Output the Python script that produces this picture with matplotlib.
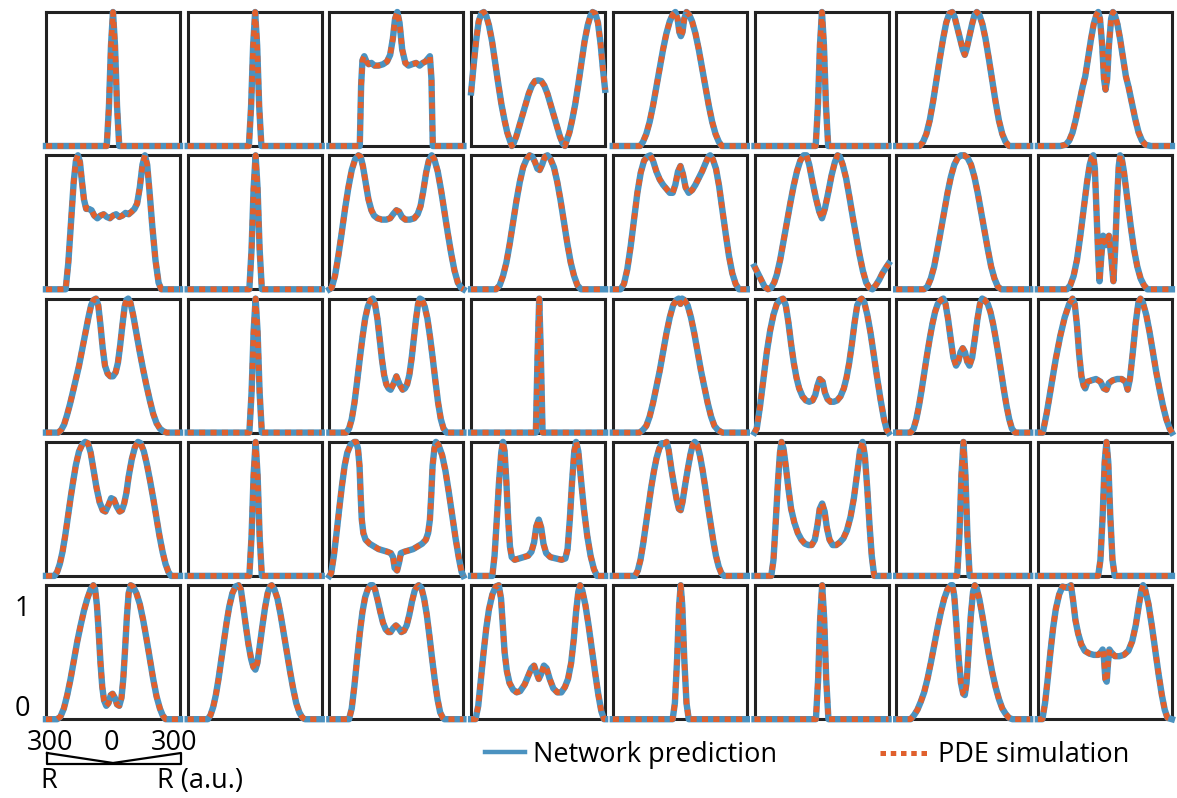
import matplotlib
matplotlib.use('Agg')
import matplotlib.pyplot as plt
from matplotlib.lines import Line2D

plt.rcParams['font.family'] = ['Open Sans', 'DejaVu Sans']

W, H = 1177, 798
blue = '#4b92c0'
orange = '#e0602d'
frame = '#222222'

# radial profiles, r in a.u. (-300..300), u normalised to 1
row1_r = [
    [-300, -28, -18, -9, 0, 9, 18, 28, 300],
    [-300, -26, -16, -7, 2, 11, 20, 30, 300],
    [-300, -164, -158, -152, -144, -134, -124, -112, -98, -80, -60, -42, -28, -16, -6, 4, 14, 26, 40, 54,
     70, 88, 104, 118, 130, 140, 150, 157, 163, 300],
    [-300, -290, -278, -266, -254, -243, -232, -220, -206, -192, -178, -164, -150, -138, -126, -118, -110,
     -98, -84, -70, -56, -42, -28, -14, 0, 14, 28, 42, 56, 70, 84, 98, 110, 120, 128, 140, 152, 166, 180,
     194, 208, 222, 234, 244, 256, 268, 280, 290, 300],
    [-300, -178, -165, -150, -135, -120, -105, -90, -75, -60, -45, -32, -20, -10, -2, 5, 12, 20, 30, 42,
     55, 70, 85, 100, 115, 130, 145, 160, 175, 188, 300],
    [-300, -26, -16, -7, 2, 11, 20, 30, 300],
    [-300, -195, -180, -165, -150, -135, -120, -105, -90, -76, -62, -49, -38, -26, -14, -2, 7, 16, 28, 40,
     51, 61, 72, 86, 100, 115, 130, 145, 160, 175, 190, 205, 300],
    [-300, -200, -175, -160, -145, -130, -115, -100, -88, -75, -62, -50, -38, -30, -22, -12, -4, 3, 10, 18,
     28, 36, 44, 56, 68, 81, 94, 106, 121, 136, 151, 166, 181, 206, 300],
]
row1_u = [
    [0, 0, 0.3, 0.75, 1.0, 0.75, 0.3, 0, 0],
    [0, 0, 0.3, 0.75, 1.0, 0.75, 0.3, 0, 0],
    [0, 0, 0.45, 0.64, 0.67, 0.63, 0.61, 0.62, 0.6, 0.6, 0.61, 0.63, 0.68, 0.8, 0.95, 1.0, 0.92, 0.72, 0.62,
     0.6, 0.61, 0.62, 0.6, 0.62, 0.63, 0.65, 0.67, 0.5, 0, 0],
    [0.4, 0.58, 0.78, 0.93, 0.99, 1.0, 0.97, 0.9, 0.78, 0.62, 0.46, 0.31, 0.19, 0.1, 0.04, 0.0, 0.02, 0.07,
     0.15, 0.23, 0.31, 0.39, 0.45, 0.485, 0.49, 0.485, 0.45, 0.39, 0.31, 0.23, 0.15, 0.07, 0.02, 0.0, 0.04,
     0.1, 0.19, 0.31, 0.46, 0.62, 0.78, 0.9, 0.97, 1.0, 0.99, 0.92, 0.76, 0.58, 0.42],
    [0, 0, 0.03, 0.09, 0.18, 0.3, 0.44, 0.58, 0.72, 0.84, 0.93, 0.98, 1.0, 0.95, 0.85, 0.82, 0.85, 0.95,
     1.0, 0.98, 0.93, 0.84, 0.72, 0.58, 0.44, 0.3, 0.18, 0.09, 0.03, 0, 0],
    [0, 0, 0.3, 0.75, 1.0, 0.75, 0.3, 0, 0],
    [0, 0, 0.03, 0.09, 0.19, 0.33, 0.49, 0.65, 0.8, 0.92, 0.99, 1.0, 0.96, 0.88, 0.8, 0.72, 0.68, 0.73,
     0.82, 0.91, 0.98, 1.0, 0.98, 0.91, 0.8, 0.65, 0.49, 0.33, 0.19, 0.09, 0.03, 0, 0],
    [0, 0, 0.01, 0.04, 0.1, 0.2, 0.32, 0.44, 0.52, 0.66, 0.8, 0.91, 0.98, 1.0, 0.95, 0.75, 0.5, 0.42, 0.5,
     0.75, 0.95, 1.0, 0.98, 0.91, 0.8, 0.66, 0.52, 0.44, 0.32, 0.2, 0.1, 0.04, 0.01, 0, 0],
]

row2_r = [
    [-300, -212, -200, -188, -176, -166, -157, -148, -140, -130, -120, -108, -96, -84, -70, -56, -42, -28,
     -14, 0, 14, 28, 42, 56, 70, 84, 96, 108, 120, 132, 143, 153, 164, 176, 190, 204, 216, 300],
    [-300, -24, -14, -5, 4, 13, 22, 32, 300],
    [-300, -290, -275, -260, -245, -230, -215, -200, -185, -170, -160, -150, -138, -125, -112, -100, -85,
     -65, -45, -28, -15, 0, 12, 25, 40, 60, 80, 95, 108, 120, 133, 145, 158, 170, 185, 200, 215, 230, 245,
     260, 275, 290, 300],
    [-300, -188, -172, -157, -142, -127, -112, -97, -82, -67, -52, -38, -26, -14, -3, 7, 18, 30, 42, 56,
     71, 86, 101, 116, 131, 146, 161, 176, 192, 300],
    [-300, -265, -250, -235, -220, -205, -190, -175, -160, -145, -132, -120, -105, -90, -75, -60, -45, -32,
     -20, -8, 3, 14, 26, 40, 55, 70, 85, 100, 115, 128, 136, 148, 162, 176, 190, 205, 220, 235, 250, 265,
     300],
    [-300, -285, -270, -255, -240, -226, -212, -200, -185, -170, -155, -140, -125, -110, -95, -80, -67, -55,
     -40, -25, -10, 2, 15, 30, 45, 60, 72, 82, 95, 110, 125, 140, 155, 170, 185, 200, 215, 228, 243, 258,
     273, 288, 300],
    [-300, -175, -160, -145, -130, -115, -100, -85, -70, -55, -40, -25, -10, 5, 20, 35, 50, 65, 80, 95,
     110, 125, 140, 155, 170, 300],
    [-300, -170, -155, -140, -125, -110, -95, -80, -68, -58, -52, -45, -38, -30, -24, -16, -8, 5, 18, 28,
     38, 46, 54, 62, 68, 75, 85, 100, 115, 130, 145, 160, 175, 190, 300],
]
row2_u = [
    [0, 0, 0.2, 0.5, 0.8, 0.96, 1.0, 0.95, 0.82, 0.67, 0.6, 0.6, 0.59, 0.55, 0.53, 0.55, 0.56, 0.54, 0.53,
     0.55, 0.56, 0.54, 0.55, 0.57, 0.56, 0.58, 0.6, 0.64, 0.76, 0.93, 1.0, 0.93, 0.72, 0.47, 0.22, 0.05, 0, 0],
    [0, 0, 0.3, 0.75, 1.0, 0.75, 0.3, 0, 0],
    [0, 0.01, 0.1, 0.25, 0.42, 0.6, 0.76, 0.89, 0.97, 1.0, 0.99, 0.92, 0.8, 0.67, 0.59, 0.55, 0.53, 0.52,
     0.52, 0.53, 0.56, 0.59, 0.58, 0.54, 0.52, 0.52, 0.53, 0.56, 0.62, 0.73, 0.87, 0.96, 1.0, 0.97, 0.88,
     0.74, 0.58, 0.42, 0.27, 0.14, 0.05, 0.01, 0],
    [0, 0, 0.03, 0.1, 0.2, 0.34, 0.5, 0.66, 0.8, 0.91, 0.97, 1.0, 0.99, 0.95, 0.9, 0.89, 0.93, 0.99, 1.0,
     0.97, 0.91, 0.8, 0.66, 0.5, 0.34, 0.2, 0.1, 0.03, 0, 0],
    [0, 0, 0.04, 0.15, 0.32, 0.52, 0.72, 0.87, 0.96, 0.99, 1.0, 0.96, 0.88, 0.82, 0.78, 0.75, 0.72, 0.72,
     0.78, 0.88, 0.92, 0.86, 0.76, 0.72, 0.74, 0.78, 0.83, 0.88, 0.94, 0.99, 1.0, 0.97, 0.9, 0.77, 0.6,
     0.42, 0.25, 0.12, 0.04, 0, 0],
    [0.17, 0.12, 0.07, 0.02, 0.0, 0.01, 0.05, 0.11, 0.22, 0.36, 0.5, 0.64, 0.77, 0.88, 0.96, 1.0, 1.0,
     0.93, 0.8, 0.68, 0.58, 0.53, 0.6, 0.72, 0.85, 0.95, 1.0, 0.99, 0.93, 0.83, 0.69, 0.54, 0.4, 0.26,
     0.14, 0.05, 0.01, 0.0, 0.03, 0.07, 0.12, 0.16, 0.19],
    [0, 0, 0.02, 0.08, 0.17, 0.3, 0.44, 0.58, 0.72, 0.84, 0.93, 0.98, 1.0, 1.0, 0.98, 0.93, 0.84, 0.72,
     0.58, 0.44, 0.3, 0.17, 0.08, 0.02, 0, 0],
    [0, 0, 0.03, 0.1, 0.22, 0.4, 0.6, 0.8, 0.93, 0.99, 1.0, 0.9, 0.6, 0.25, 0.06, 0.25, 0.4, 0.33, 0.4,
     0.25, 0.06, 0.3, 0.65, 0.92, 1.0, 0.98, 0.88, 0.68, 0.48, 0.3, 0.17, 0.08, 0.03, 0, 0],
]

row3_r = [
    [-300, -245, -232, -219, -206, -193, -180, -166, -152, -138, -124, -110, -98, -87, -76, -66, -56, -46,
     -36, -24, -12, 0, 12, 22, 32, 42, 52, 60, 68, 78, 90, 105, 120, 135, 150, 165, 180, 195, 210, 225,
     240, 300],
    [-300, -24, -14, -5, 4, 13, 22, 32, 300],
    [-300, -225, -212, -200, -188, -176, -164, -152, -140, -128, -116, -106, -96, -85, -75, -65, -55, -45,
     -35, -26, -14, 0, 14, 28, 38, 48, 58, 68, 78, 88, 97, 105, 115, 127, 139, 151, 163, 175, 187, 199,
     211, 225, 300],
    [-300, -10, -2, 5, 12, 20, 300],
    [-300, -180, -165, -150, -135, -120, -105, -90, -75, -60, -45, -30, -15, -5, 3, 10, 20, 35, 50, 65,
     80, 95, 110, 125, 140, 155, 170, 190, 300],
    [-300, -290, -275, -260, -245, -230, -215, -200, -185, -172, -160, -148, -136, -124, -112, -100, -85,
     -70, -55, -40, -28, -18, -8, 5, 15, 27, 40, 55, 70, 85, 100, 112, 124, 136, 148, 160, 172, 180, 192,
     205, 220, 235, 250, 265, 280, 292, 300],
    [-300, -235, -222, -210, -198, -186, -174, -162, -150, -138, -126, -114, -100, -89, -79, -68, -56, -44,
     -32, -22, -12, -2, 8, 18, 28, 40, 52, 64, 75, 85, 96, 110, 122, 134, 146, 158, 170, 182, 194, 206,
     218, 232, 300],
    [-300, -278, -260, -240, -220, -200, -180, -160, -145, -135, -125, -115, -105, -95, -88, -78, -60, -40,
     -20, -5, 7, 18, 35, 55, 75, 92, 102, 112, 125, 138, 150, 159, 170, 185, 200, 215, 230, 245, 260,
     275, 290, 300],
]
row3_u = [
    [0, 0, 0.02, 0.06, 0.13, 0.21, 0.3, 0.4, 0.5, 0.62, 0.74, 0.86, 0.95, 0.99, 1.0, 0.95, 0.8, 0.63, 0.5,
     0.44, 0.42, 0.42, 0.45, 0.52, 0.65, 0.8, 0.94, 0.99, 1.0, 0.97, 0.88, 0.74, 0.6, 0.47, 0.35, 0.24,
     0.14, 0.07, 0.03, 0.01, 0, 0],
    [0, 0, 0.3, 0.75, 1.0, 0.75, 0.3, 0, 0],
    [0, 0, 0.03, 0.1, 0.22, 0.38, 0.55, 0.71, 0.85, 0.94, 0.99, 1.0, 0.96, 0.85, 0.7, 0.55, 0.43, 0.36,
     0.33, 0.32, 0.36, 0.42, 0.36, 0.32, 0.33, 0.36, 0.43, 0.55, 0.7, 0.85, 0.96, 1.0, 0.99, 0.94, 0.85,
     0.71, 0.55, 0.38, 0.22, 0.1, 0.03, 0, 0],
    [0, 0, 0.6, 1.0, 0.6, 0, 0],
    [0, 0, 0.02, 0.05, 0.12, 0.22, 0.34, 0.46, 0.6, 0.74, 0.86, 0.95, 0.99, 1.0, 0.96, 1.0, 0.99, 0.95,
     0.86, 0.74, 0.6, 0.46, 0.34, 0.22, 0.12, 0.05, 0.02, 0, 0],
    [0, 0.03, 0.2, 0.4, 0.6, 0.76, 0.88, 0.96, 0.99, 1.0, 0.95, 0.82, 0.66, 0.52, 0.41, 0.33, 0.27, 0.24,
     0.23, 0.24, 0.28, 0.35, 0.4, 0.38, 0.3, 0.25, 0.23, 0.23, 0.24, 0.27, 0.33, 0.41, 0.52, 0.66, 0.82,
     0.95, 0.99, 1.0, 0.97, 0.88, 0.74, 0.57, 0.4, 0.24, 0.1, 0.02, 0],
    [0, 0, 0.03, 0.1, 0.2, 0.32, 0.45, 0.58, 0.7, 0.81, 0.9, 0.96, 0.99, 1.0, 0.96, 0.85, 0.7, 0.56, 0.5,
     0.53, 0.6, 0.63, 0.6, 0.53, 0.5, 0.56, 0.7, 0.85, 0.96, 1.0, 0.99, 0.96, 0.9, 0.81, 0.7, 0.58, 0.45,
     0.32, 0.2, 0.1, 0.03, 0, 0],
    [0, 0, 0.15, 0.35, 0.55, 0.72, 0.86, 0.96, 1.0, 0.96, 0.8, 0.58, 0.42, 0.35, 0.33, 0.38, 0.39, 0.4,
     0.38, 0.33, 0.32, 0.37, 0.39, 0.4, 0.4, 0.38, 0.32, 0.4, 0.6, 0.82, 0.97, 1.0, 0.97, 0.88, 0.75, 0.6,
     0.45, 0.32, 0.2, 0.1, 0.03, 0],
]

row4_r = [
    [-300, -262, -250, -238, -226, -214, -202, -190, -178, -166, -152, -138, -124, -112, -100, -88, -74,
     -60, -46, -34, -20, -8, 4, 16, 30, 40, 50, 60, 70, 84, 98, 112, 124, 138, 152, 166, 180, 194, 208,
     222, 235, 248, 260, 300],
    [-300, -24, -14, -5, 4, 13, 22, 32, 300],
    [-300, -292, -280, -268, -256, -244, -232, -220, -205, -188, -180, -172, -165, -160, -155, -148, -138,
     -120, -100, -80, -60, -40, -25, -15, -8, 3, 12, 20, 35, 55, 75, 95, 115, 132, 142, 150, 156, 162,
     170, 177, 188, 205, 220, 235, 250, 265, 280, 292, 300],
    [-300, -205, -195, -185, -175, -165, -157, -150, -142, -134, -126, -118, -105, -85, -65, -45, -30, -18,
     -8, 3, 14, 24, 36, 55, 80, 105, 122, 132, 142, 152, 162, 170, 180, 192, 205, 220, 235, 250, 264, 300],
    [-300, -200, -188, -176, -164, -152, -140, -128, -116, -104, -92, -80, -68, -59, -50, -38, -26, -14,
     -4, 4, 12, 24, 36, 48, 58, 67, 78, 90, 102, 114, 126, 138, 150, 162, 174, 186, 198, 300],
    [-300, -225, -215, -205, -195, -186, -179, -170, -160, -148, -136, -122, -106, -90, -74, -58, -44, -30,
     -18, -8, 3, 14, 24, 36, 50, 66, 82, 98, 114, 130, 145, 160, 172, 184, 194, 205, 215, 225, 236, 300],
    [-300, -27, -17, -8, 1, 10, 19, 29, 300],
    [-300, -30, -20, -10, -1, 7, 15, 24, 34, 44, 300],
]
row4_u = [
    [0, 0, 0.03, 0.09, 0.18, 0.3, 0.44, 0.58, 0.71, 0.83, 0.93, 0.98, 1.0, 0.99, 0.92, 0.8, 0.66, 0.55,
     0.49, 0.48, 0.53, 0.58, 0.57, 0.52, 0.48, 0.49, 0.54, 0.62, 0.74, 0.87, 0.96, 1.0, 0.99, 0.93, 0.83,
     0.71, 0.58, 0.44, 0.3, 0.18, 0.09, 0.03, 0, 0],
    [0, 0, 0.3, 0.75, 1.0, 0.75, 0.3, 0, 0],
    [0, 0.02, 0.15, 0.32, 0.5, 0.67, 0.82, 0.92, 0.98, 1.0, 1.0, 0.95, 0.82, 0.6, 0.42, 0.32, 0.27, 0.24,
     0.22, 0.2, 0.19, 0.18, 0.17, 0.14, 0.06, 0.04, 0.1, 0.17, 0.18, 0.19, 0.2, 0.22, 0.24, 0.27, 0.32,
     0.42, 0.6, 0.82, 0.95, 1.0, 0.98, 0.9, 0.78, 0.62, 0.45, 0.28, 0.13, 0.03, 0],
    [0, 0, 0.15, 0.42, 0.7, 0.92, 1.0, 0.93, 0.7, 0.42, 0.22, 0.14, 0.12, 0.13, 0.14, 0.15, 0.18, 0.25,
     0.37, 0.42, 0.36, 0.24, 0.17, 0.14, 0.13, 0.12, 0.13, 0.2, 0.42, 0.7, 0.93, 1.0, 0.93, 0.72, 0.5, 0.3,
     0.15, 0.05, 0, 0],
    [0, 0, 0.04, 0.12, 0.24, 0.38, 0.52, 0.66, 0.78, 0.88, 0.95, 0.99, 0.99, 1.0, 0.94, 0.8, 0.68, 0.57,
     0.5, 0.49, 0.55, 0.68, 0.8, 0.91, 0.98, 1.0, 0.98, 0.9, 0.79, 0.66, 0.52, 0.39, 0.26, 0.15, 0.07,
     0.02, 0, 0],
    [0, 0, 0.12, 0.4, 0.7, 0.92, 1.0, 0.95, 0.82, 0.65, 0.5, 0.4, 0.32, 0.27, 0.24, 0.23, 0.23, 0.27,
     0.38, 0.5, 0.54, 0.48, 0.36, 0.27, 0.23, 0.23, 0.25, 0.28, 0.34, 0.44, 0.58, 0.77, 0.93, 1.0, 0.9,
     0.65, 0.38, 0.15, 0, 0],
    [0, 0, 0.3, 0.75, 1.0, 0.75, 0.3, 0, 0],
    [0, 0, 0.12, 0.45, 0.85, 1.0, 0.85, 0.45, 0.12, 0, 0],
]

row5_r = [
    [-300, -250, -235, -220, -205, -190, -175, -160, -145, -130, -115, -100, -88, -80, -72, -64, -56, -48,
     -40, -30, -20, -10, -2, 8, 18, 28, 38, 46, 54, 62, 70, 79, 90, 105, 120, 135, 150, 165, 180, 195,
     210, 222, 235, 300],
    [-300, -210, -198, -186, -174, -162, -150, -138, -126, -114, -100, -86, -72, -62, -52, -40, -28, -16,
     -6, 3, 12, 22, 34, 46, 58, 68, 76, 88, 102, 116, 130, 144, 158, 172, 186, 200, 214, 225, 300],
    [-300, -212, -200, -188, -176, -164, -152, -140, -128, -116, -106, -96, -84, -72, -60, -48, -36, -26,
     -14, -2, 10, 22, 34, 46, 58, 70, 82, 92, 100, 112, 124, 136, 148, 160, 172, 184, 196, 208, 215, 300],
    [-300, -280, -268, -256, -244, -232, -220, -205, -190, -176, -166, -158, -150, -140, -128, -112, -96,
     -80, -60, -45, -30, -18, -8, 3, 14, 26, 38, 52, 68, 86, 104, 120, 134, 148, 160, 170, 180, 188, 198,
     212, 226, 240, 255, 270, 283, 295, 300],
    [-300, -32, -22, -12, -3, 4, 11, 20, 30, 40, 300],
    [-300, -25, -15, -6, 3, 12, 21, 31, 300],
    [-300, -235, -220, -205, -190, -175, -160, -145, -130, -115, -100, -85, -70, -55, -48, -40, -30, -20,
     -10, 0, 7, 15, 24, 34, 44, 52, 60, 72, 85, 100, 115, 130, 145, 160, 175, 190, 205, 220, 300],
    [-300, -280, -268, -256, -244, -232, -220, -205, -190, -170, -152, -142, -132, -120, -106, -90, -70,
     -50, -30, -18, -10, -4, 2, 8, 14, 20, 28, 45, 65, 85, 105, 122, 138, 152, 163, 171, 180, 195, 210,
     225, 240, 255, 268, 280, 300],
]
row5_u = [
    [0, 0, 0.02, 0.08, 0.18, 0.3, 0.44, 0.58, 0.7, 0.81, 0.9, 0.97, 1.0, 0.97, 0.85, 0.65, 0.42, 0.24,
     0.14, 0.1, 0.12, 0.18, 0.19, 0.16, 0.11, 0.1, 0.16, 0.3, 0.52, 0.76, 0.94, 1.0, 0.99, 0.94, 0.86,
     0.74, 0.6, 0.45, 0.3, 0.17, 0.08, 0.03, 0, 0],
    [0, 0, 0.03, 0.09, 0.18, 0.3, 0.44, 0.58, 0.72, 0.84, 0.94, 0.99, 1.0, 0.97, 0.85, 0.7, 0.56, 0.45,
     0.39, 0.37, 0.42, 0.54, 0.69, 0.83, 0.94, 0.99, 1.0, 0.97, 0.9, 0.78, 0.64, 0.5, 0.36, 0.23, 0.12,
     0.05, 0.01, 0, 0],
    [0, 0, 0.08, 0.25, 0.45, 0.64, 0.8, 0.91, 0.97, 1.0, 1.0, 0.97, 0.89, 0.8, 0.72, 0.67, 0.65, 0.65,
     0.68, 0.7, 0.68, 0.65, 0.66, 0.7, 0.78, 0.88, 0.96, 0.99, 1.0, 0.98, 0.9, 0.78, 0.62, 0.45, 0.29,
     0.15, 0.05, 0.01, 0, 0],
    [0, 0, 0.1, 0.3, 0.5, 0.68, 0.82, 0.93, 0.99, 1.0, 0.9, 0.7, 0.5, 0.36, 0.27, 0.22, 0.2, 0.21, 0.26,
     0.32, 0.38, 0.4, 0.35, 0.3, 0.34, 0.4, 0.38, 0.3, 0.23, 0.2, 0.2, 0.24, 0.3, 0.42, 0.6, 0.8, 0.95,
     1.0, 0.96, 0.85, 0.7, 0.53, 0.35, 0.18, 0.06, 0, 0],
    [0, 0, 0.12, 0.45, 0.85, 1.0, 0.85, 0.45, 0.12, 0, 0],
    [0, 0, 0.3, 0.75, 1.0, 0.75, 0.3, 0, 0],
    [0, 0, 0.03, 0.07, 0.13, 0.2, 0.3, 0.42, 0.55, 0.68, 0.8, 0.9, 0.97, 1.0, 1.0, 0.92, 0.7, 0.45, 0.27,
     0.19, 0.18, 0.27, 0.5, 0.77, 0.95, 1.0, 0.98, 0.9, 0.78, 0.63, 0.48, 0.35, 0.24, 0.15, 0.08, 0.04,
     0.01, 0, 0],
    [0, 0, 0.12, 0.3, 0.5, 0.68, 0.82, 0.93, 0.99, 0.98, 1.0, 0.88, 0.74, 0.64, 0.56, 0.51, 0.49, 0.48,
     0.48, 0.5, 0.52, 0.45, 0.3, 0.28, 0.42, 0.52, 0.5, 0.47, 0.47, 0.48, 0.51, 0.58, 0.7, 0.85, 0.96,
     1.0, 0.97, 0.86, 0.7, 0.52, 0.34, 0.18, 0.07, 0.01, 0],
]

rows_r = [row1_r, row2_r, row3_r, row4_r, row5_r]
rows_u = [row1_u, row2_u, row3_u, row4_u, row5_u]

x_ticks = ['300', '0', '300']
y_ticks = ['1', '0']
series_names = ['Network prediction', 'PDE simulation']

fig = plt.figure(figsize=(W / 100, H / 100), dpi=100)

# panel grid in pixels
x0, dx, pw = 46, 141.7, 134
y0, dy, ph = 12, 143.3, 134

for j in range(5):
    for i in range(8):
        left = x0 + dx * i
        top = y0 + dy * j
        ax = fig.add_axes([left / W, 1 - (top + ph) / H, pw / W, ph / H])
        r, u = rows_r[j][i], rows_u[j][i]
        ax.plot(r, u, color=blue, lw=4.6, solid_joinstyle='round', zorder=3, clip_on=False)
        ax.plot(r, u, color=orange, lw=4.0, dashes=(1.1, 0.95), dash_capstyle='butt',
                dash_joinstyle='round', zorder=4, clip_on=False)
        ax.set_xlim(-300, 300)
        ax.set_ylim(0, 1)
        ax.set_xticks([])
        ax.set_yticks([])
        for s in ax.spines.values():
            s.set_linewidth(2.2)
            s.set_color(frame)


def fx(px):
    return px / W


def fy(py):
    return 1 - py / H


fs = 19.5
# y scale marks
fig.text(fx(22), fy(616), y_ticks[0], ha='center', va='baseline', fontsize=fs)
fig.text(fx(22), fy(716), y_ticks[1], ha='center', va='baseline', fontsize=fs)

# radial scale bar
for xc, lab in zip([50, 111, 174], x_ticks):
    fig.text(fx(xc), fy(750), lab, ha='center', va='baseline', fontsize=fs)
bx = [47, 113, 181, 181, 47, 47]
by = [753, 763, 753, 764, 764, 753]
fig.add_artist(Line2D([fx(v) for v in bx], [fy(v) for v in by], color='black', lw=1.6,
                      transform=fig.transFigure))
fig.text(fx(40), fy(788), 'R', ha='left', va='baseline', fontsize=fs)
fig.text(fx(157), fy(788), 'R (a.u.)', ha='left', va='baseline', fontsize=fs)

# legend
fig.add_artist(Line2D([fx(485), fx(525)], [fy(752), fy(752)], color=blue, lw=3.2,
                      transform=fig.transFigure))
fig.text(fx(533), fy(762), series_names[0], ha='left', va='baseline', fontsize=fs)
fig.add_artist(Line2D([fx(880), fx(930)], [fy(753), fy(753)], color=orange, lw=3.6,
                      dashes=(1.1, 0.95), dash_capstyle='butt', transform=fig.transFigure))
fig.text(fx(938), fy(762), series_names[1], ha='left', va='baseline', fontsize=fs)

fig.savefig('out.png', dpi=100)
